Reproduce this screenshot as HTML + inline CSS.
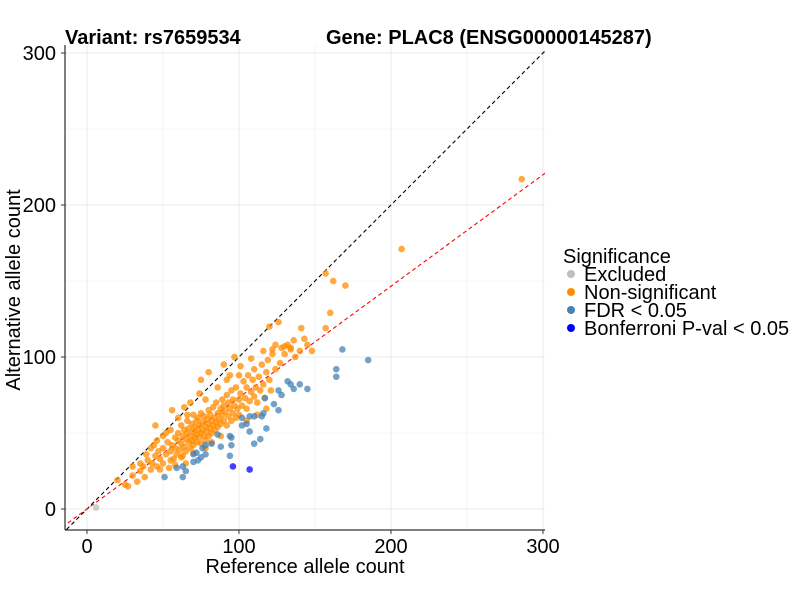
<!DOCTYPE html>
<html><head><meta charset="utf-8"><style>
body{margin:0;background:#fff;}
svg{font-family:"Liberation Sans",Arial,sans-serif;}
</style></head><body>
<svg id="chart" width="800" height="600">
<defs><clipPath id="pc"><rect x="65" y="45" width="480" height="485"/></clipPath></defs>
<rect width="800" height="600" fill="#fff"/>
<g id="grid"></g>
<g id="lines" clip-path="url(#pc)"></g>
<g id="pts" clip-path="url(#pc)"></g>
<line x1="65" y1="45" x2="65" y2="530" stroke="#000" stroke-width="1"/>
<line x1="65" y1="530" x2="545" y2="530" stroke="#000" stroke-width="1"/>
<g id="ticks"></g>
<text x="65" y="44" font-size="20" font-weight="bold">Variant: rs7659534</text>
<text x="326" y="44" font-size="20" font-weight="bold">Gene: PLAC8 (ENSG00000145287)</text>
<text x="305" y="573" font-size="20" text-anchor="middle">Reference allele count</text>
<text transform="translate(20,290) rotate(-90)" font-size="20" text-anchor="middle">Alternative allele count</text>
<g>
<text x="563" y="263" font-size="20">Significance</text>
<circle cx="571" cy="274" r="4" fill="#bebebe"/>
<text x="584" y="281" font-size="20">Excluded</text>
<circle cx="571" cy="292" r="4" fill="#ff8c00"/>
<text x="584" y="299" font-size="20">Non-significant</text>
<circle cx="571" cy="310" r="4" fill="#4682b4"/>
<text x="584" y="317" font-size="20">FDR &lt; 0.05</text>
<circle cx="571" cy="328" r="4" fill="#0000ff"/>
<text x="584" y="335" font-size="20">Bonferroni P-val &lt; 0.05</text>
</g>
</svg>
<script>
const ticks=[0,100,200,300];
const minorTicks=[50,150,250];
const slope=0.733;
const excluded=[[6,1]];
const nonsig=[[20,19],[25,16],[27,15],[30,22],[33,18],[35,25],[37,28],[38,21],[40,32],[42,26],[43,30],[45,35],[46,28],[47,38],[48,33],[50,40],[50,30],[52,36],[53,44],[54,27],[55,38],[56,42],[57,33],[58,47],[58,40],[59,36],[60,45],[60,50],[61,39],[62,43],[62,55],[63,48],[63,35],[64,52],[64,41],[65,46],[65,38],[66,58],[66,50],[67,44],[67,53],[68,40],[68,48],[69,56],[69,45],[70,51],[70,42],[70,62],[71,47],[71,54],[72,49],[72,58],[72,44],[73,52],[73,60],[74,47],[74,55],[75,50],[75,63],[75,43],[76,57],[76,52],[77,48],[77,61],[78,54],[78,45],[79,59],[79,51],[80,65],[80,56],[80,48],[81,53],[81,62],[82,58],[82,50],[83,55],[83,67],[84,60],[84,52],[85,57],[85,70],[86,63],[86,54],[87,59],[88,66],[88,56],[89,62],[89,72],[90,58],[90,68],[91,64],[92,55],[92,75],[93,61],[93,70],[94,66],[95,58],[95,78],[96,63],[96,72],[97,68],[98,60],[98,80],[99,66],[100,72],[100,62],[101,76],[102,68],[103,84],[104,73],[105,66],[105,80],[106,88],[107,71],[108,77],[109,85],[110,74],[110,92],[111,80],[112,70],[113,87],[114,78],[115,95],[116,82],[117,73],[118,90],[119,98],[120,85],[121,78],[122,102],[124,92],[124,108],[126,123],[127,96],[128,106],[130,102],[132,108],[134,106],[136,111],[137,100],[140,104],[141,119],[143,112],[145,108],[148,104],[157,119],[160,129],[157,155],[162,150],[170,147],[207,171],[286,217],[120,120],[56,65],[45,55],[68,70],[75,85],[80,90],[60,60],[50,48],[65,30],[58,29],[35,30],[30,28],[42,40],[39,36],[100,88],[92,85],[118,66],[112,62],[105,58],[88,48],[82,44],[78,40],[70,37],[62,34],[55,32],[48,26],[64,67],[74,76],[90,95],[97,100],[55,52],[52,50],[46,45],[44,42],[66,62],[78,72],[86,80],[94,88],[101,94],[108,99],[116,104],[122,105],[130,107],[134,105]];
const fdr=[[168,105],[185,98],[164,92],[164,87],[132,84],[134,82],[140,82],[136,79],[145,79],[126,78],[128,75],[117,73],[123,69],[126,65],[116,63],[115,61],[107,61],[110,61],[102,60],[105,56],[102,55],[118,53],[107,51],[94,48],[95,47],[86,49],[114,46],[110,43],[95,42],[88,41],[82,43],[78,42],[76,40],[72,37],[78,36],[94,35],[70,36],[75,34],[73,32],[70,31],[63,28],[65,25],[63,21],[59,27],[51,21]];
const bonf=[[96,28],[107,26]];
const xs=v=>87+1.52*v, ys=v=>509-1.52*v;
const NS='http://www.w3.org/2000/svg';
function mk(parent,tag,attrs){const e=document.createElementNS(NS,tag);for(const k in attrs)e.setAttribute(k,attrs[k]);parent.appendChild(e);return e;}
const grid=document.getElementById('grid');
minorTicks.concat(ticks).forEach(t=>{
 const isMajor=ticks.includes(t);
 const gv=mk(grid,'line',{x1:xs(t),x2:xs(t),y1:45,y2:530,stroke:'#ebebeb','stroke-width':isMajor?1:0.6});
 
 
 const gh=mk(grid,'line',{x1:65,x2:545,y1:ys(t),y2:ys(t),stroke:'#ebebeb','stroke-width':isMajor?1:0.6});
 
 
});
const tk=document.getElementById('ticks');
ticks.forEach(t=>{
 const a=mk(tk,'line',{x1:xs(t),x2:xs(t),y1:530,y2:534,stroke:'#333'});
 
 
 const l=mk(tk,'text',{x:xs(t),y:553,'font-size':20,'text-anchor':'middle'});l.textContent=t;
 
 
 const b=mk(tk,'line',{x1:61,x2:65,y1:ys(t),y2:ys(t),stroke:'#333'});
 
 
 const m=mk(tk,'text',{x:56,y:ys(t)+7,'font-size':20,'text-anchor':'end'});m.textContent=t;
 
 
});
const ln=document.getElementById('lines');
const d1=mk(ln,'line',{x1:xs(-20),y1:ys(-20),x2:xs(310),y2:ys(310),stroke:'#000','stroke-width':1.1,'stroke-dasharray':'4,3'});


const d2=mk(ln,'line',{x1:xs(-20),y1:ys(-20*slope),x2:xs(310),y2:ys(310*slope),stroke:'#ff0000','stroke-width':1.1,'stroke-dasharray':'4,3'});


const pts=document.getElementById('pts');
function draw(arr,color,name){arr.forEach(p=>{
 const c=mk(pts,'circle',{cx:xs(p[0]),cy:ys(p[1]),r:3.3,fill:color,'fill-opacity':0.75});
 
 
});}
draw(excluded,'#bebebe','point-excluded');
draw(nonsig,'#ff8c00','point-nonsignificant');
draw(fdr,'#4682b4','point-fdr');
draw(bonf,'#0000ff','point-bonferroni');
</script>
</body></html>
